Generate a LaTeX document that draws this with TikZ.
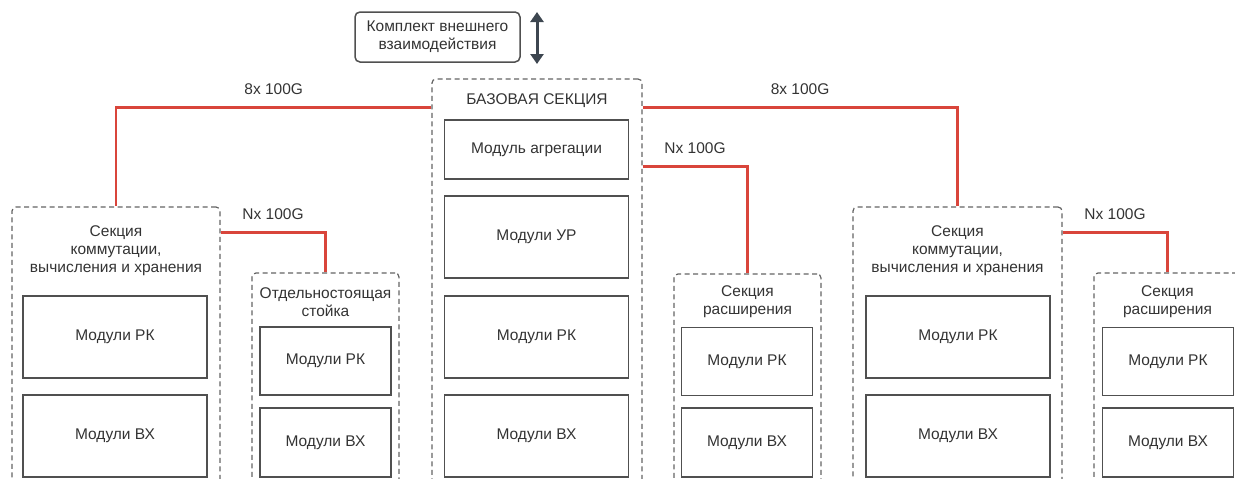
\documentclass[tikz,border=0pt]{standalone}
\usepackage{fontspec}
\setmainfont{Liberation Sans}
\usetikzlibrary{arrows.meta}
\definecolor{linkred}{HTML}{D9453B}
\definecolor{boxgray}{HTML}{505050}
\definecolor{dashgray}{HTML}{646464}
\definecolor{textgray}{HTML}{333333}
\definecolor{arrowgray}{HTML}{3D4650}

\begin{document}
\begin{tikzpicture}[x=1pt, y=-1pt,
        every node/.style={font=\fontsize{15.5}{18}\selectfont, text=textgray},
        section/.style={draw=dashgray, line width=1.2pt, dash pattern=on 5pt off 3.5pt, rounded corners=4pt, inner sep=0pt},
        module/.style={draw=boxgray, line width=1.5pt, inner sep=0pt},
        link/.style={draw=linkred, line width=2.5pt},
        sectitle/.style={align=center, inner sep=0pt}]

                \useasboundingbox (0,0) rectangle (1235,479);
                \clip (0,0) rectangle (1235,479);

                \node[draw=boxgray, line width=1.5pt, rounded corners=5pt, align=center, minimum width=165, minimum height=50, inner sep=0pt] (ext) at (437.5,37) {Комплект внешнего\\взаимодействия};
                \coordinate (exttop) at (537,12);
                \coordinate (extbot) at (537,64);
                \draw[arrowgray, line width=3pt, {Triangle[width=13pt,length=10pt]}-{Triangle[width=13pt,length=10pt]}] (exttop) -- (extbot);

                \node[section, minimum width=210, minimum height=450] (base) at (537,304) {};
                \node[sectitle] (basetitle) at (537,101) {БАЗОВАЯ СЕКЦИЯ};
                \node[module, minimum width=184, minimum height=59] (agg) at (536.5,149.5) {Модуль агрегации};
                \node[module, minimum width=184, minimum height=82] (bur) at (536.5,237) {Модули УР};
                \node[module, minimum width=184, minimum height=82] (brk) at (536.5,337) {Модули РК};
                \node[module, minimum width=184, minimum height=82] (bvh) at (536.5,436) {Модули ВХ};

                \node[section, minimum width=208, minimum height=320] (lsec) at (116,367) {};
                \node[sectitle] (lsectitle) at (116,251) {Секция\\коммутации,\\вычисления и хранения};
                \node[module, minimum width=184, minimum height=82] (lrk) at (115,337) {Модули РК};
                \node[module, minimum width=184, minimum height=82] (lvh) at (115,436) {Модули ВХ};

                \node[section, minimum width=147, minimum height=260] (stand) at (325.5,403) {};
                \node[sectitle] (standtitle) at (325.5,302) {Отдельностоящая\\стойка};
                \node[module, minimum width=131, minimum height=68] (srk) at (325.5,361) {Модули РК};
                \node[module, minimum width=131, minimum height=69] (svh) at (325.5,442.5) {Модули ВХ};

                \node[section, minimum width=147, minimum height=260] (mexp) at (747.5,404) {};
                \node[sectitle] (mexptitle) at (747.5,301.5) {Секция\\расширения};
                \node[module, minimum width=131, minimum height=68] (mrk) at (747,361.5) {Модули РК};
                \node[module, minimum width=131, minimum height=69] (mvh) at (747,442.5) {Модули ВХ};

                \node[section, minimum width=209, minimum height=320] (rsec) at (957.5,367) {};
                \node[sectitle] (rsectitle) at (957.5,251) {Секция\\коммутации,\\вычисления и хранения};
                \node[module, minimum width=184, minimum height=82] (rrk) at (958,337) {Модули РК};
                \node[module, minimum width=184, minimum height=82] (rvh) at (958,436) {Модули ВХ};

                \node[section, minimum width=147, minimum height=260] (rexp) at (1167.5,403) {};
                \node[sectitle] (rexptitle) at (1167.5,301.5) {Секция\\расширения};
                \node[module, minimum width=131, minimum height=68] (rerk) at (1168,361.5) {Модули РК};
                \node[module, minimum width=131, minimum height=69] (revh) at (1168,442.5) {Модули ВХ};

                \draw[link] ([yshift=-29pt]base.north west) -| node[pos=0.25, yshift=18pt] (lbl8l) {8x 100G} (lsec.north);
                \draw[link] ([yshift=-29pt]base.north east) -| node[pos=0.25, yshift=18pt] (lbl8r) {8x 100G} (rsec.north);
                \draw[link] ([yshift=-88pt]base.north east) -| node[pos=0.25, yshift=18pt] (lblnb) {Nx 100G} (mexp.north);
                \draw[link] ([yshift=-26pt]lsec.north east) -| node[pos=0.25, yshift=18pt] (lblnl) {Nx 100G} (stand.north);
                \draw[link] ([yshift=-26pt]rsec.north east) -| node[pos=0.25, yshift=18pt] (lblnr) {Nx 100G} (rexp.north);
\end{tikzpicture}
\end{document}
